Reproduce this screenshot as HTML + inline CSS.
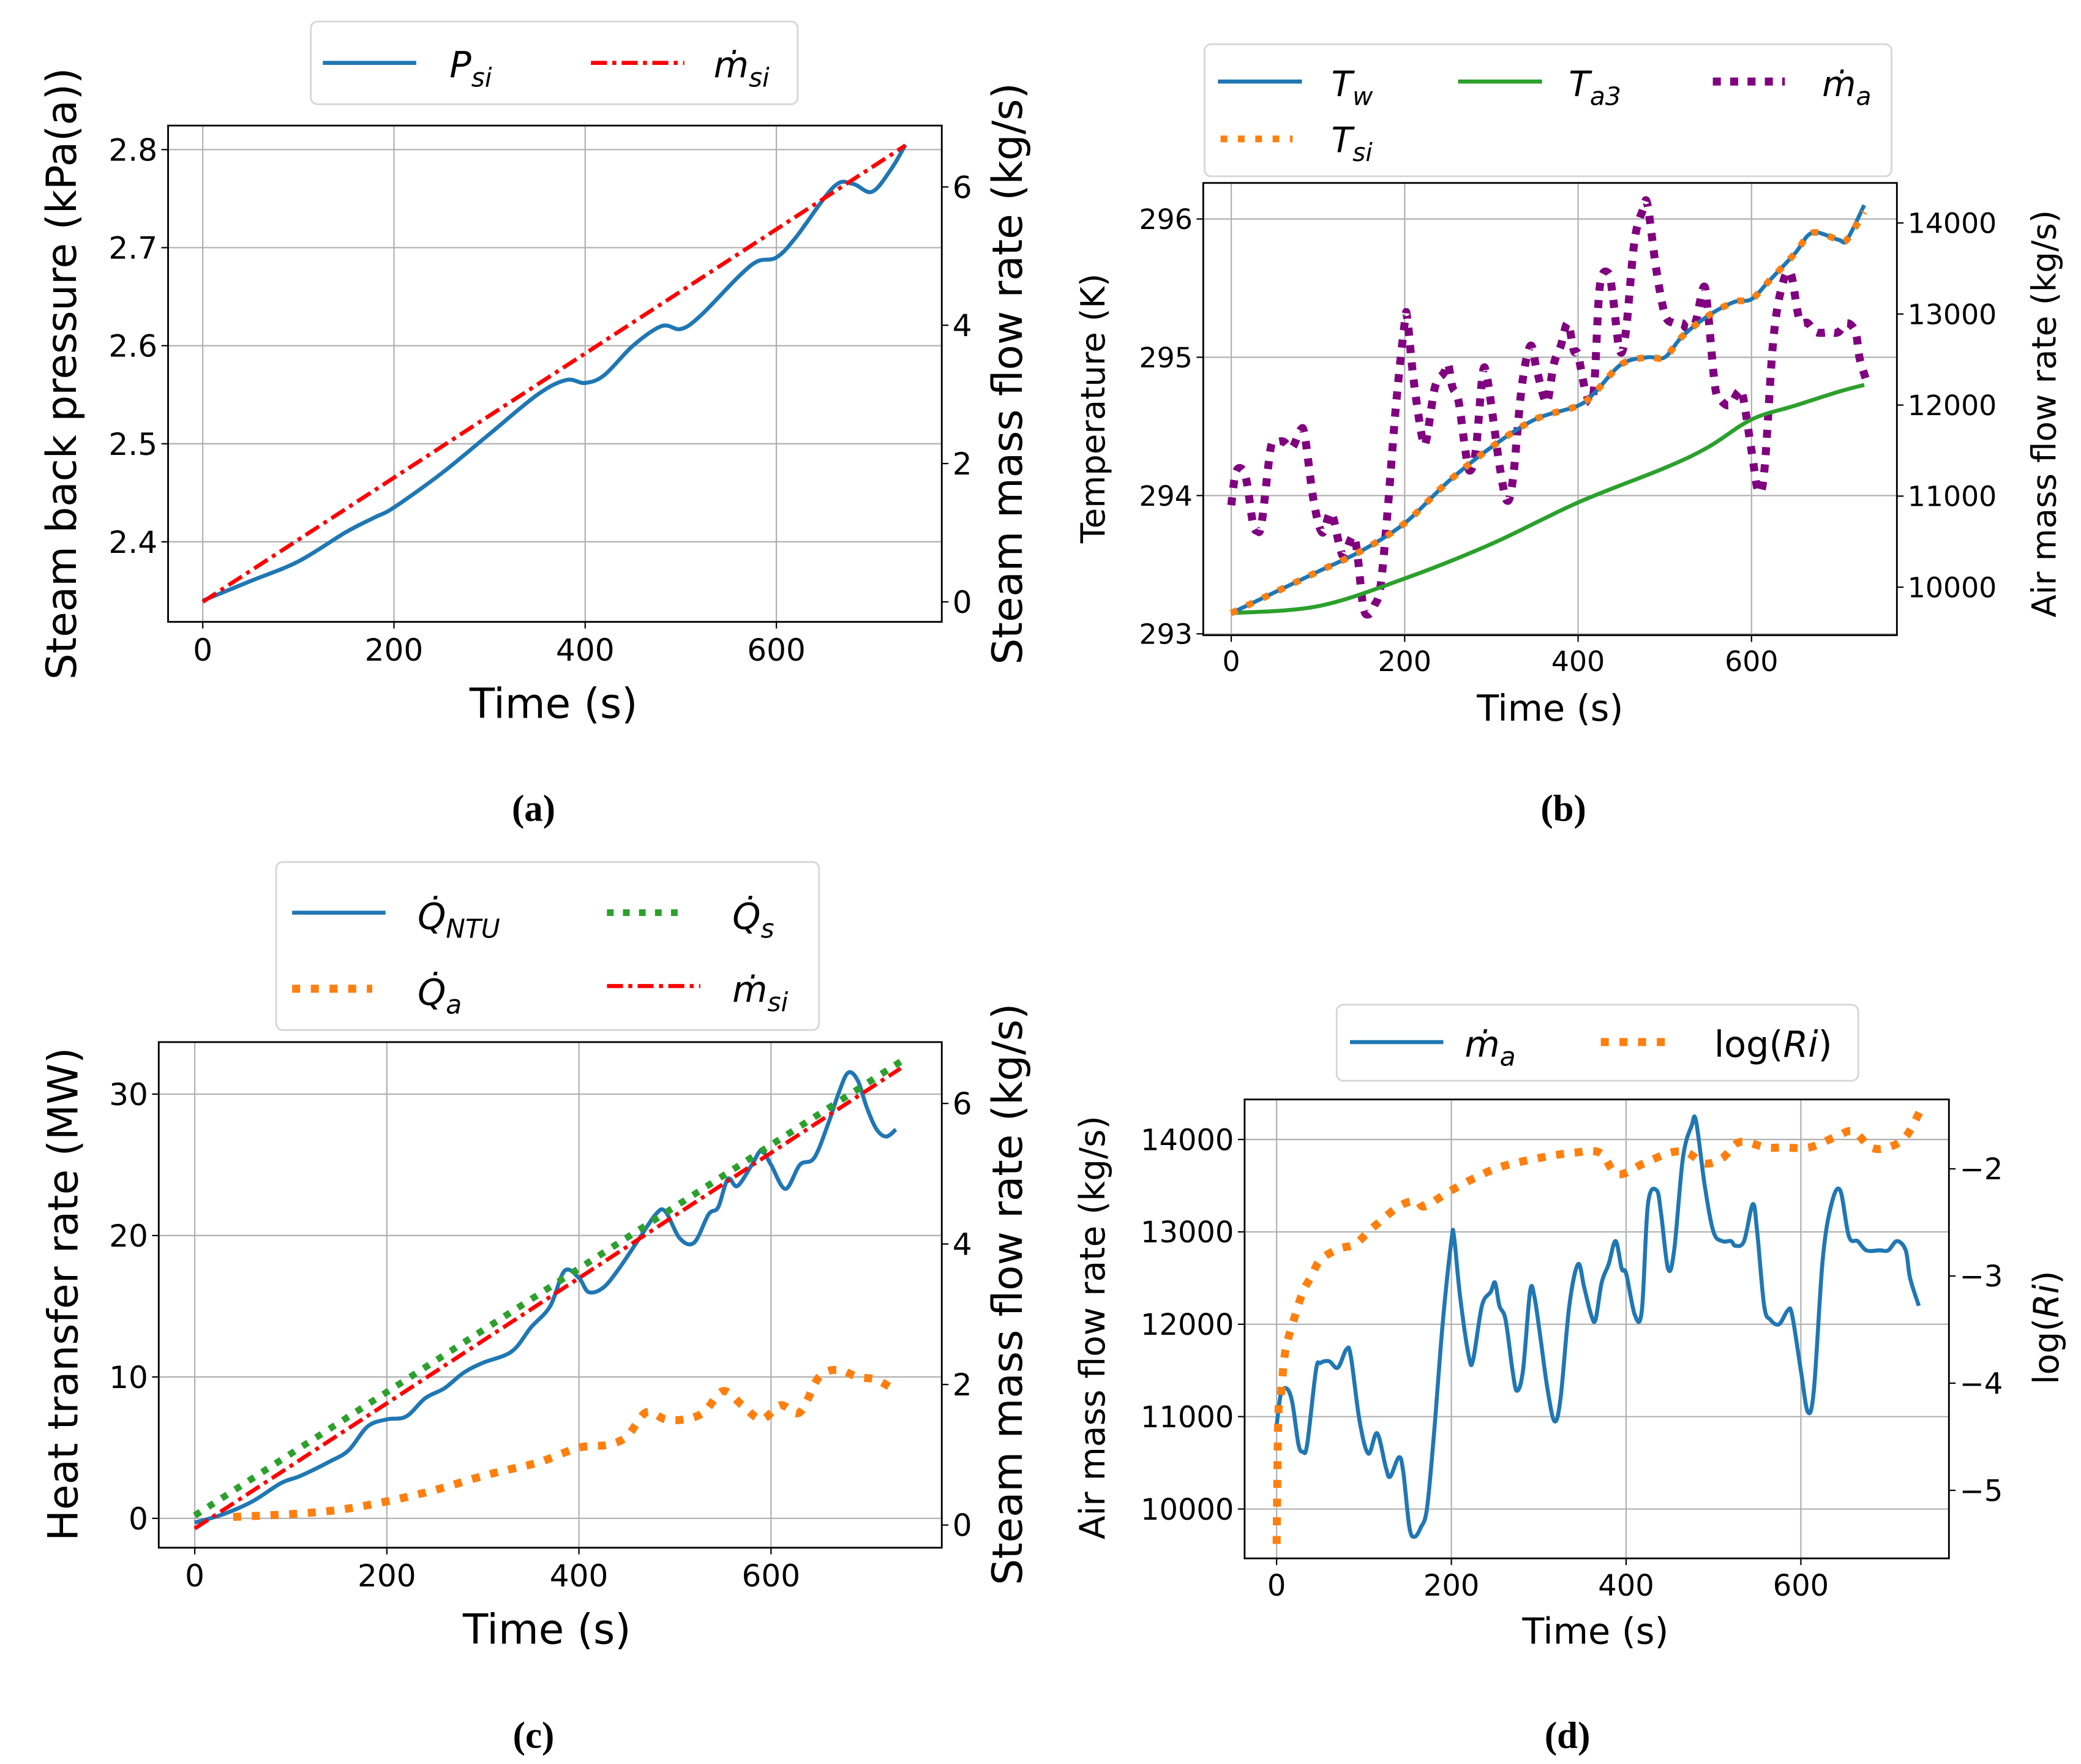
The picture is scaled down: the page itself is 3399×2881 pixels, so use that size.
<!DOCTYPE html>
<html><head><meta charset="utf-8">
<style>
html,body{margin:0;padding:0;background:#fff;}
svg{display:block;}
text{font-family:"DejaVu Sans","Liberation Sans",sans-serif;fill:#000;}
.cap{font-family:"Liberation Serif","DejaVu Serif",serif;}
</style></head>
<body>
<svg id="fig" width="3399" height="2881" viewBox="0 0 1560 1322" xmlns="http://www.w3.org/2000/svg">
<rect width="1560" height="1322" fill="#fff"/>
</svg>
<script>
// ---------- Panel (a) data ----------
const aTime = [0,50,100,150,180,200,250,300,350,380,400,420,450,480,500,520,560,580,600,620,660,680,700,720,735];
const aPsi  = [2.34,2.36,2.38,2.41,2.425,2.435,2.47,2.51,2.55,2.565,2.562,2.57,2.60,2.62,2.617,2.63,2.67,2.686,2.69,2.71,2.762,2.765,2.757,2.78,2.805];
const aMsiTime = [0,735];
const aMsi = [0,6.6];
const aXTicks = [0,200,400,600];
const aYTicks = [2.4,2.5,2.6,2.7,2.8];
const aY2Ticks = [0,2,4,6];

// ---------- Panel (b) data ----------
const bTwTime = [0,50,100,150,200,250,300,350,400,420,450,480,500,520,550,580,600,620,650,670,700,710,730];
const bTw = [293.15,293.3,293.45,293.6,293.8,294.1,294.35,294.55,294.65,294.75,294.95,295.0,295.0,295.15,295.3,295.4,295.42,295.55,295.75,295.9,295.85,295.85,296.1];
const bTsi = [293.15,293.3,293.45,293.6,293.8,294.1,294.35,294.55,294.65,294.75,294.95,295.0,295.0,295.15,295.3,295.4,295.42,295.55,295.75,295.9,295.85,295.85,296.05];
const bTaTime = [0,100,200,300,400,500,550,600,650,700,730];
const bTa3 = [293.15,293.2,293.4,293.65,293.95,294.2,294.35,294.55,294.65,294.75,294.8];
const bXTicks = [0,200,400,600];
const bYTicks = [293,294,295,296];
const bY2Ticks = [10000,11000,12000,13000,14000];

// ---------- shared air mass flow ----------
const maTime = [0,5,12,18,25,30,35,45,50,60,70,80,85,95,105,115,125,130,140,145,152,158,165,172,180,190,200,203,210,220,225,235,245,250,255,262,270,275,282,290,295,302,310,318,325,335,345,352,360,365,372,380,388,395,400,410,418,425,435,440,448,455,465,475,480,490,500,510,520,525,535,545,550,558,565,575,585,590,600,608,615,625,635,645,655,665,675,690,700,710,720,725,735];
const maVal = [10900,11250,11300,11150,10700,10620,10700,11500,11580,11600,11530,11730,11650,10950,10600,10820,10450,10350,10560,10400,9800,9700,9800,10000,10800,12000,12900,12950,12300,11650,11620,12200,12350,12450,12200,12050,11500,11280,11500,12350,12300,11850,11300,10950,11200,12200,12650,12400,12100,12050,12450,12650,12900,12600,12550,12100,12150,13300,13450,13200,12600,12800,13800,14150,14200,13500,13000,12900,12900,12850,12900,13300,13000,12200,12050,12000,12150,12100,11500,11050,11300,12700,13300,13450,12950,12900,12800,12800,12800,12900,12800,12500,12200];

// ---------- Panel (c) data ----------
const cQTime = [0,30,60,90,110,140,160,180,200,220,240,260,280,300,330,350,370,385,400,410,425,440,460,480,490,505,520,535,545,555,565,580,590,600,615,630,645,660,670,680,690,700,710,720,730];
const cQntu = [-0.3,0.3,1.2,2.5,3.0,4.0,4.8,6.5,7.0,7.2,8.5,9.2,10.3,11.0,11.8,13.5,15.0,17.5,17.0,16.0,16.3,17.5,19.5,21.5,21.7,19.8,19.5,21.5,22.0,24.0,23.5,25.0,26.0,25.0,23.3,25.0,25.5,28.0,30.0,31.5,31.0,29.0,27.5,27.0,27.5];
const cQsTime = [0,735];
const cQs = [0.2,32.3];
const cQaTime = [40,100,150,200,250,300,330,360,400,430,450,470,490,510,530,550,570,590,610,630,650,670,690,710,730];
const cQa = [0.1,0.3,0.6,1.2,2.0,3.0,3.5,4.0,5.0,5.2,5.8,7.5,7.0,7.0,7.5,9.0,8.0,7.0,8.0,7.5,10.0,10.5,10.0,9.8,9.0];
const cMsiTime = [0,735];
const cMsi = [-0.05,6.5];
const cXTicks = [0,200,400,600];
const cYTicks = [0,10,20,30];
const cY2Ticks = [0,2,4,6];

// ---------- Panel (d) data ----------
const dRiTime = [0,2,5,10,20,30,40,50,70,90,110,140,160,170,200,250,300,340,370,390,420,450,470,490,510,530,560,580,610,640,660,680,700,720,737];
const dRi = [-5.5,-4.3,-4.1,-3.7,-3.4,-3.15,-3.0,-2.85,-2.75,-2.7,-2.55,-2.35,-2.3,-2.35,-2.2,-2.0,-1.9,-1.85,-1.85,-2.05,-1.95,-1.85,-1.85,-1.95,-1.9,-1.75,-1.8,-1.8,-1.8,-1.7,-1.65,-1.8,-1.8,-1.7,-1.45];
const dXTicks = [0,200,400,600];
const dYTicks = [10000,11000,12000,13000,14000];
const dY2Ticks = [-5,-4,-3,-2];

const NS = "http://www.w3.org/2000/svg";
const fig = document.getElementById('fig');
function el(tag, attrs, parent){
  const e = document.createElementNS(NS, tag);
  for (const k in attrs) e.setAttribute(k, attrs[k]);
  (parent||fig).appendChild(e);
  return e;
}
function lin(d0,d1,r0,r1){ return v => r0 + (v-d0)*(r1-r0)/(d1-d0); }
function smoothPath(xs, ys){
  let d = 'M' + xs[0].toFixed(2) + ',' + ys[0].toFixed(2);
  for (let i=0;i<xs.length-1;i++){
    const x0=xs[Math.max(0,i-1)], y0=ys[Math.max(0,i-1)];
    const x1=xs[i], y1=ys[i], x2=xs[i+1], y2=ys[i+1];
    const x3=xs[Math.min(xs.length-1,i+2)], y3=ys[Math.min(xs.length-1,i+2)];
    const t=1/6;
    d += ' C' + (x1+(x2-x0)*t).toFixed(2)+','+(y1+(y2-y0)*t).toFixed(2)+' '+(x2-(x3-x1)*t).toFixed(2)+','+(y2-(y3-y1)*t).toFixed(2)+' '+x2.toFixed(2)+','+y2.toFixed(2);
  }
  return d;
}
function series(name, xs, ys, sx, sy, style){
  const p = el('path', Object.assign({d: smoothPath(xs.map(sx), ys.map(sy)), fill:'none'}, style));
  
  
  return p;
}
function txt(s, x, y, size, name, opts){
  const t = el('text', Object.assign({x:x, y:y, 'font-size':size}, opts||{}));
  t.textContent = s;
  
  
  return t;
}
function axes(P){
  P.xTicks.forEach(v => {
    const x = P.sx(v);
    const g = el('line',{x1:x,x2:x,y1:P.top,y2:P.bot,stroke:'#b0b0b0','stroke-width':1});
    
    
    el('line',{x1:x,x2:x,y1:P.bot,y2:P.bot+5,stroke:'#000','stroke-width':1});
    txt(String(v), x, P.bot+P.tfs+6, P.tfs, P.id+'-x-tick', {'text-anchor':'middle'});
  });
  P.yTicks.forEach(v => {
    const y = P.sy(v);
    const g = el('line',{x1:P.left,x2:P.right,y1:y,y2:y,stroke:'#b0b0b0','stroke-width':1});
    
    
    el('line',{x1:P.left-5,x2:P.left,y1:y,y2:y,stroke:'#000','stroke-width':1});
    txt(P.fmt(v), P.left-8, y+P.tfs*0.36, P.tfs, P.id+'-y-tick', {'text-anchor':'end'});
  });
  P.y2Ticks.forEach(v => {
    const y = P.sy2(v);
    el('line',{x1:P.right,x2:P.right+5,y1:y,y2:y,stroke:'#000','stroke-width':1});
    txt(P.fmt2(v), P.right+8, y+P.tfs*0.36, P.tfs, P.id+'-y2-tick', {'text-anchor':'start'});
  });
}
function frame(P){
  const r = el('rect',{x:P.left,y:P.top,width:P.right-P.left,height:P.bot-P.top,fill:'none',stroke:'#000','stroke-width':1.3});
  
  
}
function legendBox(x,y,w,h,name){
  const r = el('rect',{x:x,y:y,width:w,height:h,rx:5,fill:'#fff','fill-opacity':0.8,stroke:'#d6d6d6','stroke-width':1.3});
  
  
}
function legLine(x,y,len,style,name){
  const l = el('line',Object.assign({x1:x,x2:x+len,y1:y,y2:y},style));
  
  
}
function mathLabel(main, sub, x, y, size, name, upright){
  const t = el('text',{x:x,y:y,'font-size':size});
  
  
  const a = el('tspan',{'font-style': upright?'normal':'italic'}, t); a.textContent = main;
  if (sub){ const b = el('tspan',{'font-style':'italic','font-size':size*0.72,dy:size*0.25}, t); b.textContent = sub; }
  return t;
}
const BLUE='#1f77b4', ORANGE='#ff7f0e', GREEN='#2ca02c', RED='#ff0000', PURPLE='#800080';

// ================= Panel (a) =================
{
  const P = {id:'a', left:126, right:706, top:94, bot:466, tfs:23,
    xTicks:aXTicks, yTicks:aYTicks, y2Ticks:aY2Ticks,
    fmt:v=>v.toFixed(1), fmt2:v=>String(v)};
  P.sx = lin(0,600,152,582); P.sy = lin(2.4,2.8,406,112); P.sy2 = lin(0,6,451,140);
  axes(P);
  series('psi-line', aTime, aPsi, P.sx, P.sy, {stroke:BLUE,'stroke-width':3});
  series('msi-line', aMsiTime, aMsi, P.sx, P.sy2, {stroke:RED,'stroke-width':3,'stroke-dasharray':'12 4 3 4'});
  frame(P);
  txt('Steam back pressure (kPa(a))', 0, 0, 31, 'a-y-axis-title', {'text-anchor':'middle',transform:'translate(57,280) rotate(-90)'});
  txt('Steam mass flow rate (kg/s)', 0, 0, 31, 'a-y2-axis-title', {'text-anchor':'middle',transform:'translate(766,280) rotate(-90)'});
  txt('Time (s)', 415, 538, 31, 'a-x-axis-title', {'text-anchor':'middle'});
  legendBox(233,16,365,62,'a-legend');
  legLine(242,47,70,{stroke:BLUE,'stroke-width':3},'a-legend-psi-line');
  mathLabel('P','si',337,58,27,'a-legend-psi');
  legLine(443,47,70,{stroke:RED,'stroke-width':3,'stroke-dasharray':'12 4 3 4'},'a-legend-msi-line');
  mathLabel('ṁ','si',535,58,27,'a-legend-msi');
  txt('(a)', 400, 615, 28, 'a-caption', {'text-anchor':'middle','class':'cap','font-weight':'bold'});
}

// ================= Panel (b) =================
{
  const P = {id:'b', left:902, right:1422, top:137, bot:476, tfs:21,
    xTicks:bXTicks, yTicks:bYTicks, y2Ticks:bY2Ticks,
    fmt:v=>String(v), fmt2:v=>String(v)};
  P.sx = lin(0,600,923,1313); P.sy = lin(293,296,475,164); P.sy2 = lin(10000,14000,440,167);
  axes(P);
  series('ma-dotted-line', maTime, maVal, P.sx, P.sy2, {stroke:PURPLE,'stroke-width':6,'stroke-dasharray':'6 7'});
  series('ta3-line', bTaTime, bTa3, P.sx, P.sy, {stroke:GREEN,'stroke-width':3});
  series('tw-line', bTwTime, bTw, P.sx, P.sy, {stroke:BLUE,'stroke-width':3});
  series('tsi-dotted-line', bTwTime, bTsi, P.sx, P.sy, {stroke:ORANGE,'stroke-width':5,'stroke-dasharray':'5 8'});
  frame(P);
  txt('Temperature (K)', 0, 0, 25, 'b-y-axis-title', {'text-anchor':'middle',transform:'translate(828,306) rotate(-90)'});
  txt('Air mass flow rate (kg/s)', 0, 0, 25, 'b-y2-axis-title', {'text-anchor':'middle',transform:'translate(1541,310) rotate(-90)'});
  txt('Time (s)', 1162, 540, 27, 'b-x-axis-title', {'text-anchor':'middle'});
  legendBox(903,33,515,99,'b-legend');
  legLine(913,61,63,{stroke:BLUE,'stroke-width':3},'b-legend-tw-line');
  mathLabel('T','w',998,72,26,'b-legend-tw');
  legLine(1093,61,63,{stroke:GREEN,'stroke-width':3},'b-legend-ta3-line');
  mathLabel('T','a3',1176,72,26,'b-legend-ta3');
  legLine(1284,61,54,{stroke:PURPLE,'stroke-width':6,'stroke-dasharray':'6 7'},'b-legend-ma-line');
  mathLabel('ṁ','a',1366,72,26,'b-legend-ma');
  legLine(915,104,54,{stroke:ORANGE,'stroke-width':5,'stroke-dasharray':'5 8'},'b-legend-tsi-line');
  mathLabel('T','si',998,114,26,'b-legend-tsi');
  txt('(b)', 1172, 615, 28, 'b-caption', {'text-anchor':'middle','class':'cap','font-weight':'bold'});
}

// ================= Panel (c) =================
{
  const P = {id:'c', left:119, right:706, top:781, bot:1160, tfs:23,
    xTicks:cXTicks, yTicks:cYTicks, y2Ticks:cY2Ticks,
    fmt:v=>String(v), fmt2:v=>String(v)};
  P.sx = lin(0,600,146,578); P.sy = lin(0,30,1138,820); P.sy2 = lin(0,6,1143,827);
  axes(P);
  series('qa-dotted-line', cQaTime, cQa, P.sx, P.sy, {stroke:ORANGE,'stroke-width':6,'stroke-dasharray':'6 8'});
  series('qntu-line', cQTime, cQntu, P.sx, P.sy, {stroke:BLUE,'stroke-width':3});
  series('qs-dotted-line', cQsTime, cQs, P.sx, P.sy, {stroke:GREEN,'stroke-width':5,'stroke-dasharray':'5 7'});
  series('c-msi-line', cMsiTime, cMsi, P.sx, P.sy2, {stroke:RED,'stroke-width':3,'stroke-dasharray':'12 4 3 4'});
  frame(P);
  txt('Heat transfer rate (MW)', 0, 0, 31, 'c-y-axis-title', {'text-anchor':'middle',transform:'translate(58,970) rotate(-90)'});
  txt('Steam mass flow rate (kg/s)', 0, 0, 31, 'c-y2-axis-title', {'text-anchor':'middle',transform:'translate(766,970) rotate(-90)'});
  txt('Time (s)', 410, 1232, 31, 'c-x-axis-title', {'text-anchor':'middle'});
  legendBox(207,646,407,126,'c-legend');
  legLine(219,684,70,{stroke:BLUE,'stroke-width':3},'c-legend-qntu-line');
  mathLabel('Q̇','NTU',313,696,27,'c-legend-qntu');
  legLine(455,684,58,{stroke:GREEN,'stroke-width':5,'stroke-dasharray':'5 7'},'c-legend-qs-line');
  mathLabel('Q̇','s',549,696,27,'c-legend-qs');
  legLine(219,741,60,{stroke:ORANGE,'stroke-width':6,'stroke-dasharray':'6 8'},'c-legend-qa-line');
  mathLabel('Q̇','a',313,753,27,'c-legend-qa');
  legLine(455,739,70,{stroke:RED,'stroke-width':3,'stroke-dasharray':'12 4 3 4'},'c-legend-msi-line');
  mathLabel('ṁ','si',549,751,27,'c-legend-msi');
  txt('(c)', 400, 1310, 28, 'c-caption', {'text-anchor':'middle','class':'cap','font-weight':'bold'});
}

// ================= Panel (d) =================
{
  const P = {id:'d', left:933, right:1461, top:824, bot:1168, tfs:22,
    xTicks:dXTicks, yTicks:dYTicks, y2Ticks:dY2Ticks,
    fmt:v=>String(v), fmt2:v=>'\u2212'+Math.abs(v)};
  P.sx = lin(0,600,957,1350); P.sy = lin(10000,14000,1131,854); P.sy2 = lin(-5,-2,1117,876);
  axes(P);
  series('d-ma-line', maTime, maVal, P.sx, P.sy, {stroke:BLUE,'stroke-width':3});
  series('log-ri-dotted-line', dRiTime, dRi, P.sx, P.sy2, {stroke:ORANGE,'stroke-width':6,'stroke-dasharray':'6 8'});
  frame(P);
  txt('Air mass flow rate (kg/s)', 0, 0, 26, 'd-y-axis-title', {'text-anchor':'middle',transform:'translate(828,995) rotate(-90)'});
  const yl = el('text',{x:0,y:0,'font-size':26,'text-anchor':'middle',transform:'translate(1543,995) rotate(-90)'});
  
  
  const y1 = el('tspan',{},yl); y1.textContent='log(';
  const y2 = el('tspan',{'font-style':'italic'},yl); y2.textContent='Ri';
  const y3 = el('tspan',{},yl); y3.textContent=')';
  txt('Time (s)', 1196, 1232, 27, 'd-x-axis-title', {'text-anchor':'middle'});
  legendBox(1002,753,391,57,'d-legend');
  legLine(1012,781,70,{stroke:BLUE,'stroke-width':3},'d-legend-ma-line');
  mathLabel('ṁ','a',1098,792,27,'d-legend-ma');
  legLine(1200,781,56,{stroke:ORANGE,'stroke-width':6,'stroke-dasharray':'6 8'},'d-legend-ri-line');
  const t = el('text',{x:1285,y:792,'font-size':27});
  
  
  const s1 = el('tspan',{},t); s1.textContent='log(';
  const s2 = el('tspan',{'font-style':'italic'},t); s2.textContent='Ri';
  const s3 = el('tspan',{},t); s3.textContent=')';
  txt('(d)', 1175, 1310, 28, 'd-caption', {'text-anchor':'middle','class':'cap','font-weight':'bold'});
}
</script>
</body></html>
